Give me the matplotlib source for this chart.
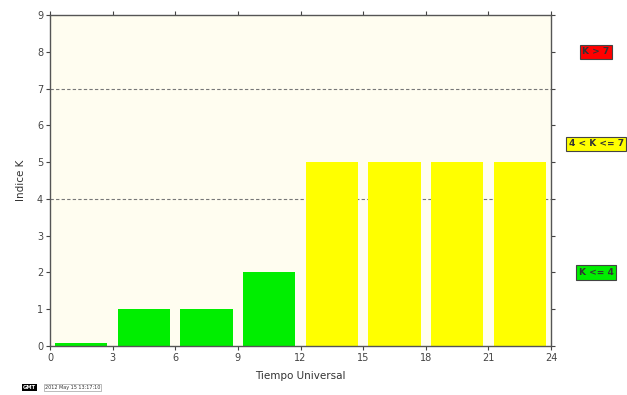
import matplotlib
matplotlib.use("Agg")
import matplotlib.pyplot as plt

# 3-hour K index values (UT)
hours = [1.5, 4.5, 7.5, 10.5, 13.5, 16.5, 19.5, 22.5]
k_values = [0, 1, 1, 2, 5, 5, 5, 5]
x_ticks = [0, 3, 6, 9, 12, 15, 18, 21, 24]
y_ticks = [0, 1, 2, 3, 4, 5, 6, 7, 8, 9]
thresholds = [4, 7]
legend_labels = ["K > 7", "4 < K <= 7", "K <= 4"]
legend_levels = [8, 5.5, 2]
legend_colors = ["#ff0000", "#ffff00", "#00ee00"]


def k_color(k):
    if k > 7:
        return "#ff0000"
    if k > 4:
        return "#ffff00"
    return "#00ee00"


fig = plt.figure(figsize=(6.27, 3.95), dpi=100)
ax = fig.add_axes([50 / 627, 49 / 395, 501 / 627, 331 / 395])
ax.set_facecolor("#fffdf0")

# a zero value still gets a thin visible strip
heights = [max(k, 0.07) for k in k_values]
ax.bar(hours, heights, width=2.5, color=[k_color(k) for k in k_values],
       edgecolor="none", zorder=2)

for t in thresholds:
    ax.axhline(t, color="#777777", linestyle=(0, (3, 2)), linewidth=0.8, zorder=1)

ax.set_xlim(0, 24)
ax.set_ylim(0, 9)
ax.set_xticks(x_ticks)
ax.set_yticks(y_ticks)
ax.tick_params(axis="both", direction="out", length=3, width=0.8,
               labelsize=7, colors="#444444", top=True, right=True,
               labeltop=False, labelright=False, pad=2)
for s in ax.spines.values():
    s.set_color("#555555")
    s.set_linewidth(1.0)
    s.set_zorder(3)

ax.set_xlabel("Tiempo Universal", fontsize=7.5, color="#333333", labelpad=6)
ax.set_ylabel("Indice K", fontsize=7.5, color="#333333", labelpad=8)

for lab, lvl, col in zip(legend_labels, legend_levels, legend_colors):
    ax.text(1.09, lvl, lab, transform=ax.get_yaxis_transform(),
            ha="center", va="center", fontsize=6.5, fontweight="bold",
            color="#333333",
            bbox=dict(boxstyle="square,pad=0.3", facecolor=col,
                      edgecolor="#444444", linewidth=0.8))

fig.text(23 / 627, 5 / 395, "GMT", fontsize=3.8, color="white",
         va="bottom", ha="left", fontweight="bold",
         bbox=dict(boxstyle="square,pad=0.25", facecolor="black", edgecolor="none"))
fig.text(45 / 627, 5 / 395, "2012 May 15 13:17:10", fontsize=3.5,
         color="#333333", va="bottom", ha="left",
         bbox=dict(boxstyle="square,pad=0.2", facecolor="white",
                   edgecolor="#888888", linewidth=0.4))

fig.savefig("out.png", dpi=100)
